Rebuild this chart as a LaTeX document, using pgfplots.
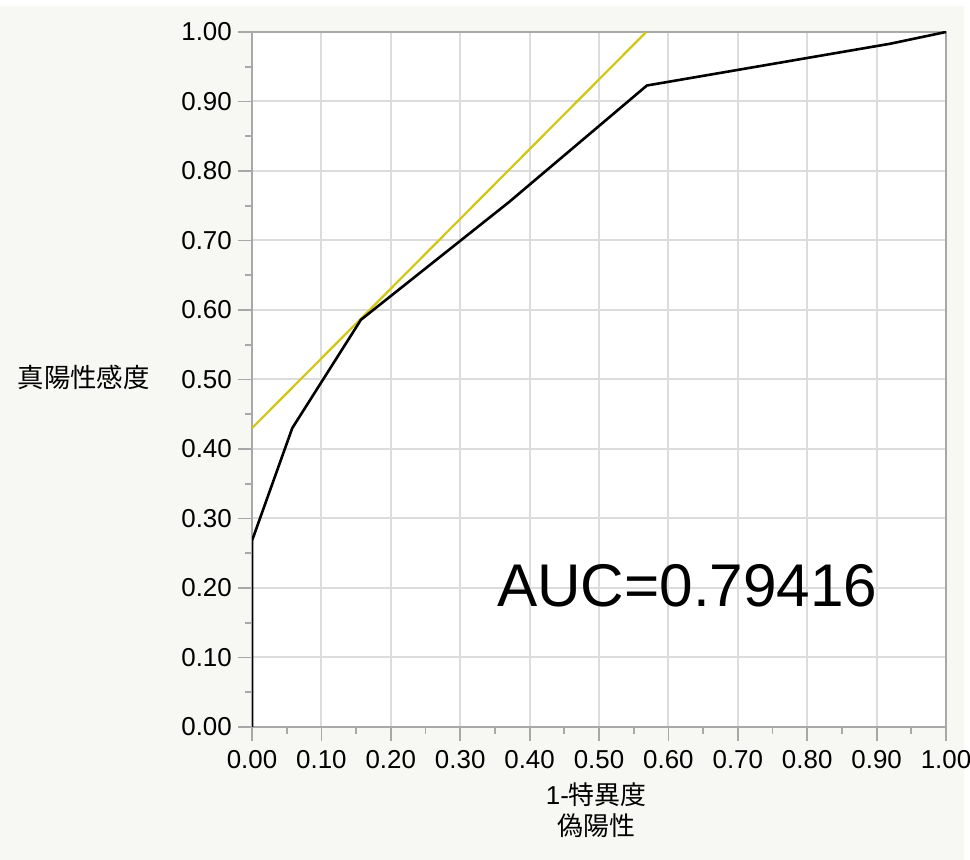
\documentclass[border=0pt]{standalone}
\usepackage{pgfplots}
\pgfplotsset{compat=1.18}
\usepackage{fontspec}
\setmainfont{Liberation Sans}
\newfontfamily\cjk{Noto Sans CJK JP}
\definecolor{bggray}{RGB}{247,247,243}
\definecolor{axgray}{RGB}{168,168,168}
\definecolor{gridgray}{RGB}{220,220,220}
\definecolor{rocyellow}{RGB}{210,198,20}
\begin{document}
\begin{tikzpicture}
\useasboundingbox (0,0) rectangle (970bp,860bp);
\path[fill=white] (0,0) rectangle (970bp,860bp);
\path[fill=bggray] (0,0) rectangle (964bp,854bp);
\begin{axis}[
  at={(252bp,133bp)}, anchor=south west,
  scale only axis, width=694bp, height=695bp,
  xmin=0, xmax=1, ymin=0, ymax=1,
  axis background/.style={fill=white},
  xtick={0,0.1,0.2,0.3,0.4,0.5,0.6,0.7,0.8,0.9,1.0},
  ytick={0,0.1,0.2,0.3,0.4,0.5,0.6,0.7,0.8,0.9,1.0},
  minor tick num=1,
  tick align=outside,
  tick pos=left,
  major tick length=14bp,
  minor tick length=7bp,
  grid=major,
  major grid style={gridgray, line width=2bp},
  axis line style={axgray, line width=2.2bp},
  every tick/.style={axgray, line width=1.8bp},
  every minor tick/.style={axgray, line width=1.8bp},
  /pgf/number format/assume math mode=true,
  ticklabel style={font=\fontsize{26}{30}\selectfont, inner sep=2bp,
    /pgf/number format/fixed, /pgf/number format/fixed zerofill,
    /pgf/number format/precision=2},
  yticklabel style={xshift=-4bp},
  xticklabel style={yshift=-7bp},
  xlabel={1-{\cjk 特異度}\\{\cjk 偽陽性}},
  xlabel style={font=\fontsize{26}{31}\selectfont, align=center,
    at={(axis description cs:0.496,0)}, anchor=center, yshift=-83bp},
  ylabel={{\cjk 真陽性感度}},
  ylabel style={font=\fontsize{26.5}{30}\selectfont, rotate=-90,
    at={(axis description cs:-0.2426,0.5036)}, anchor=center},
]
\addplot[rocyellow, line width=2.2bp] coordinates {(0,0.43) (0.568,1.0)};
\addplot[black, line width=2.6bp, line join=round] coordinates {
  (0,0) (0,0.268) (0.058,0.430) (0.157,0.586) (0.370,0.755)
  (0.569,0.923) (0.919,0.983) (1,1)};
\node[anchor=base west, inner sep=0pt, font=\fontsize{60.5}{70}\selectfont]
  at (axis cs:0.353,0.173) {AUC=0.79416};
\end{axis}
\end{tikzpicture}
\end{document}
